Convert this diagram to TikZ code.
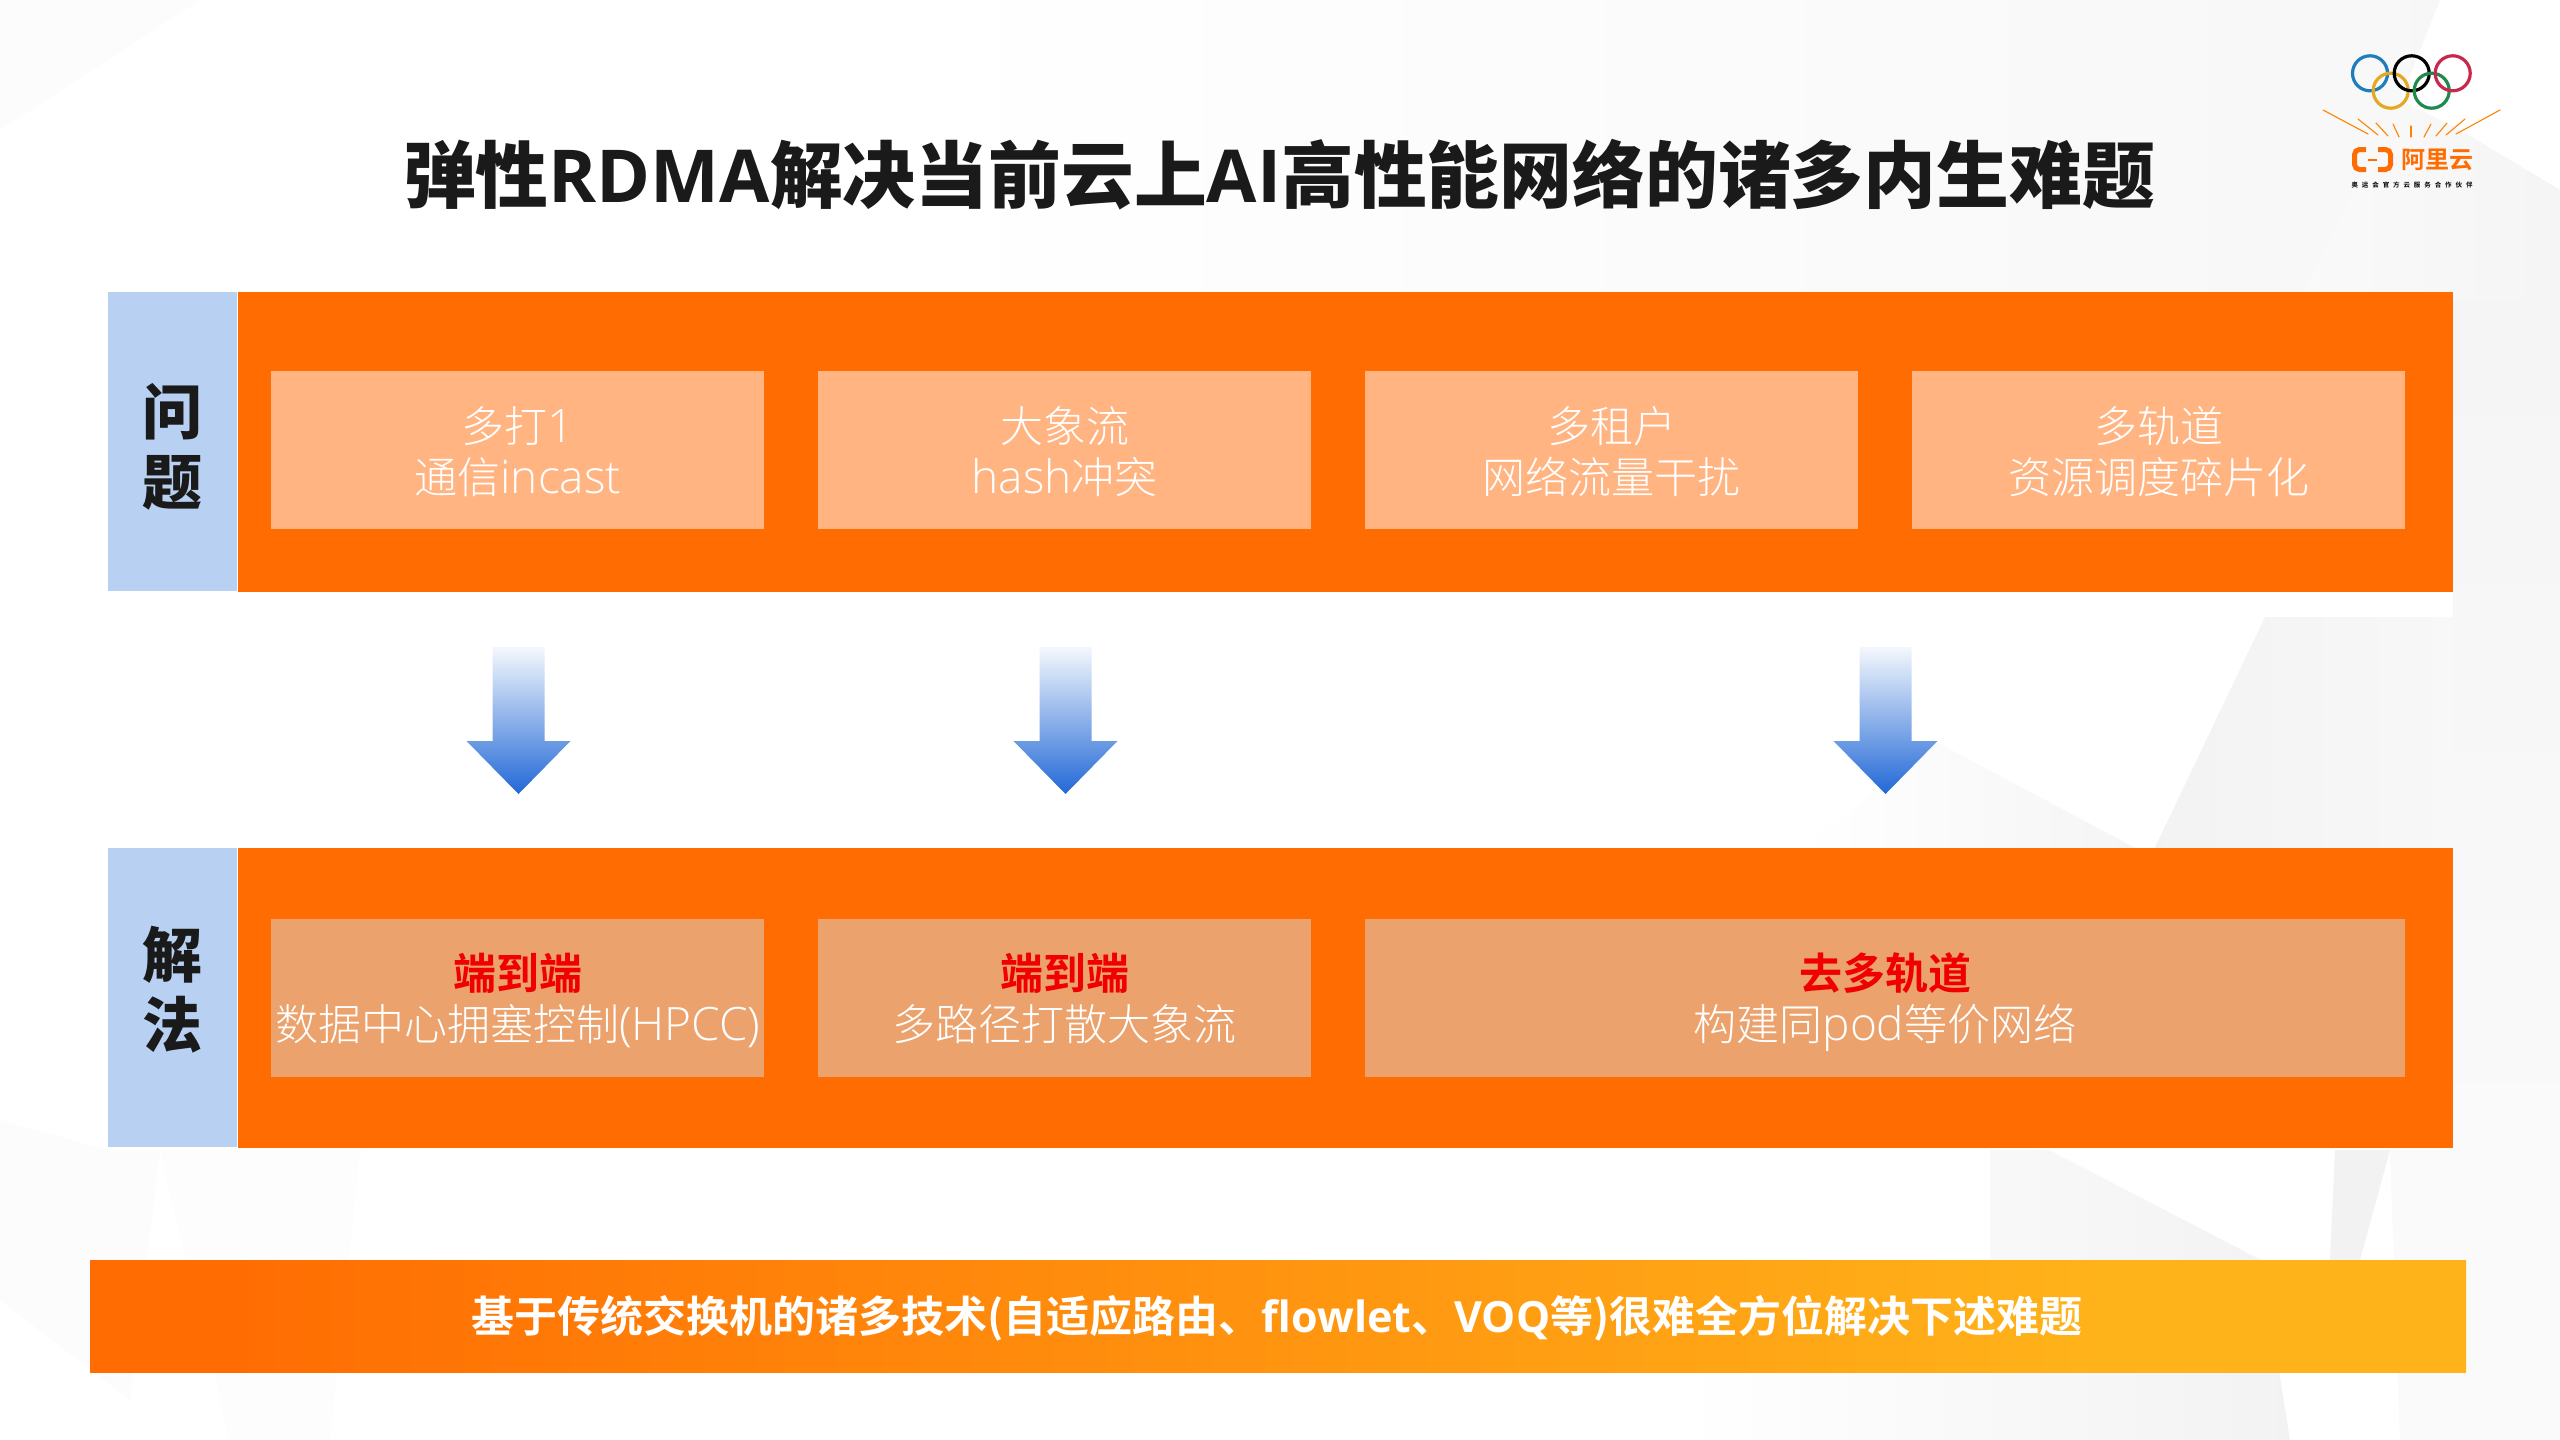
\documentclass[tikz,border=0pt]{standalone}
\usepackage{fontspec}
\setmainfont{Noto Sans CJK SC Light}[BoldFont={Noto Sans CJK SC Bold}]
\newfontfamily\heavy{Noto Sans CJK SC Black}
\newfontfamily\lat{Open Sans Light}[Scale=1.07]
\newfontfamily\latb{Open Sans}[UprightFont=*,BoldFont=* Bold]
\usetikzlibrary{calc}
\definecolor{orbar}{HTML}{FF6C02}
\definecolor{barend}{HTML}{FFB31A}
\definecolor{lblue}{HTML}{B8D1F3}
\definecolor{pb1}{HTML}{FFB482}
\definecolor{pb2}{HTML}{EBA26D}
\definecolor{txtk}{HTML}{1A1A1A}
\definecolor{redt}{HTML}{F00000}
\definecolor{arrowb}{HTML}{2268D6}
\definecolor{arrowt}{HTML}{F4F8FD}
\definecolor{rblue}{HTML}{1D7EBB}
\definecolor{ryel}{HTML}{E5A823}
\definecolor{rgre}{HTML}{1F8A4C}
\definecolor{rred}{HTML}{C8284B}
\pgfdeclarehorizontalshading{barshade}{100bp}{color(0bp)=(orbar); color(27.5bp)=(orbar); color(67.5bp)=(barend); color(100bp)=(barend)}
\newcommand{\lstrut}{\rule[-11pt]{0pt}{40pt}}
\newcommand{\fstrut}{\rule{0pt}{46.5pt}}
\tikzset{
 x=1pt,y=-1pt,
 sidebox/.style={fill=lblue,draw=none,inner sep=0,minimum width=129pt,minimum height=299pt},
 sidetext/.style={inner sep=0,align=center,text=txtk,font=\fontsize{60}{70}\selectfont\heavy},
 band/.style={fill=orbar,draw=none,inner sep=0,minimum width=2215pt,minimum height=300pt},
 probbox/.style={fill=pb1,draw=none,inner sep=0,minimum width=493pt,minimum height=158pt,align=center,text=white,font=\fontsize{43}{51}\selectfont},
 solbox/.style={probbox,fill=pb2},
 flowarrow/.style={top color=arrowt,bottom color=arrowb,draw=none},
 ray/.style={draw=orbar!85!yellow,line width=1.1pt,line cap=round},
 ring/.style={draw=#1,line width=3.2pt},
}
\begin{document}
\begin{tikzpicture}
\useasboundingbox (0,0) rectangle (2560,1440);
\fill[white] (0,0) rectangle (2560,1440);
% background facets
\shade[left color=white,right color=black!3] (900,0) -- (2440,0) -- (2400,100) -- (2300,300) -- (900,300) -- cycle;
\shade[left color=black!2,right color=black!4] (2300,300) -- (2400,100) -- (2460,130) -- (2560,190) -- (2560,300) -- cycle;
\shade[left color=black!5,right color=black!2] (2265,617) -- (2560,617) -- (2560,860) -- (2149,860) -- cycle;
\shade[top color=black!4,bottom color=black!2] (2453,300) rectangle (2560,1150);
\shade[left color=white,right color=black!4] (1938,743) -- (2139,850) -- (1800,850) -- cycle;
\shade[left color=white,right color=black!5] (1990,1150) -- (2049,1150) -- (2261,1260) -- (2290,1440) -- (1690,1440) -- (1680,1372) -- (1990,1260) -- cycle;
\fill[black!5] (2335,1150) -- (2390,1150) -- (2360,1260) -- (2330,1260) -- cycle;
\fill[black!2] (2390,1150) -- (2560,1150) -- (2560,1440) -- (2400,1440) -- cycle;
\fill[black!1.2] (0,1120) -- (107,1150) -- (160,1150) -- (130,1400) -- (0,1300) -- cycle;
\fill[black!0.8] (160,1150) -- (360,1150) -- (330,1440) -- (230,1440) -- cycle;
\fill[black!1.2] (0,0) -- (200,0) -- (0,130) -- cycle;

\node[font=\fontsize{72.8}{80}\selectfont\heavy,text=txtk,inner sep=0] (title) at (1279,175) {弹性{\fontsize{73}{80}\latb\bfseries RDMA}解决当前云上{\fontsize{73}{80}\latb\bfseries AI}高性能网络的诸多内生难题};

\node[sidebox] (wen) at (172,441.5) {};
\node[sidetext] (wenlab) at (172,447) {问\\题};
\node[band] (b1) at (1345.5,442) {};
\node[probbox] (p1) at (517.8,450) {\fstrut 多打{\lat 1}\\通信{\lat incast}\lstrut};
\node[probbox] (p2) at (1064.8,450) {\fstrut 大象流\\{\lat hash}冲突\lstrut};
\node[probbox] (p3) at (1611.8,450) {\fstrut 多租户\\网络流量干扰\lstrut};
\node[probbox] (p4) at (2158.8,450) {\fstrut 多轨道\\资源调度碎片化\lstrut};

\foreach \n/\cx in {1/518.5,2/1065.5,3/1885.5}{
 \shade[flowarrow] (\cx-26,647) -- (\cx+26,647) -- (\cx+26,741) -- (\cx+52,741) -- (\cx,794) -- (\cx-52,741) -- (\cx-26,741) -- cycle;
}

\node[sidebox] (jie) at (172,997.5) {};
\node[sidetext] (jielab) at (172,990) {解\\法};
\node[band] (b2) at (1345.5,998) {};
\node[solbox] (s1) at (517.8,997.5) {\fstrut\textcolor{redt}{\bfseries 端到端}\\数据中心拥塞控制{\lat (HPCC)}\lstrut};
\node[solbox] (s2) at (1064.8,997.5) {\fstrut\textcolor{redt}{\bfseries 端到端}\\多路径打散大象流\lstrut};
\node[solbox,minimum width=1040pt] (s3) at (1885,997.5) {\fstrut\textcolor{redt}{\bfseries 去多轨道}\\构建同{\lat pod}等价网络\lstrut};

\shade[shading=barshade] (90,1260) rectangle (2466,1372);
\node[font=\fontsize{43}{50}\selectfont\bfseries,text=white,inner sep=0] (foot) at (1277,1318) {基于传统交换机的诸多技术(自适应路由、{\latb flowlet}、{\latb VOQ}等)很难全方位解决下述难题};

% logo
\draw[ring=rblue] (2370,73.3) circle (17.5);
\draw[ring=ryel] (2390.7,90.7) circle (17.5);
\draw[ring=black] (2411.7,73.3) circle (17.5);
\draw[ring=rgre] (2431.7,90.7) circle (17.5);
\draw[ring=rred] (2452.7,73.3) circle (17.5);
\foreach \a/\b/\c/\d in {2323/110/2368/134,2358/119/2378/135,2376/123/2388/136,2393/124/2399/137,2411/126/2411/137,2431/124/2424/137,2447/123/2436/136,2465/119/2446/135,2500/110/2456/134}
 \draw[ray] (\a,\b) -- (\c,\d);
\draw[orbar,line width=5pt,rounded corners=5pt] (2366,149.5) -- (2354.5,149.5) -- (2354.5,169.5) -- (2366,169.5);
\draw[orbar,line width=5pt,rounded corners=5pt] (2378,149.5) -- (2390.5,149.5) -- (2390.5,169.5) -- (2378,169.5);
\draw[orbar,line width=2.5pt] (2368,160) -- (2377,160);
\node[font=\fontsize{24}{26}\selectfont\bfseries,text=orbar,inner sep=0] (aly) at (2437,160) {阿里云};
\node[font=\fontsize{6.5}{8}\selectfont\bfseries,text=black,inner sep=0] (tag) at (2412,185) {\makebox[121pt][s]{奥\hfill 运\hfill 会\hfill 官\hfill 方\hfill 云\hfill 服\hfill 务\hfill 合\hfill 作\hfill 伙\hfill 伴}};
\end{tikzpicture}
\end{document}
